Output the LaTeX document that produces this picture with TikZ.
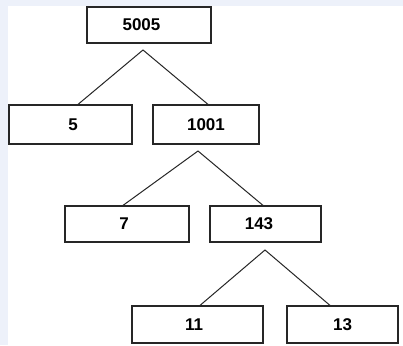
\documentclass[tikz,border=0pt]{standalone}
\usepackage{fontspec}
\setmainfont{Liberation Sans}
\usetikzlibrary{calc}
\definecolor{bgblue}{HTML}{EDF1FA}
\newcommand{\numshiftx}[2]{\hspace*{#1}#2}
\begin{document}
\begin{tikzpicture}[x=1pt,y=-1pt,
  numbox/.style={draw=black!85,line width=1.2pt,fill=white,inner sep=0pt,font=\bfseries\fontsize{17}{19}\selectfont},
  branch/.style={draw=black!85,line width=1pt}]
\fill[bgblue] (0,0) rectangle (403,345);
\fill[white] (8,6) rectangle (403,345);
\useasboundingbox (0,0) rectangle (403,345);
\node[numbox,minimum width=124pt,minimum height=36pt] (n5005) at (149,25) {\numshiftx{-15pt}{5005}};
\node[numbox,minimum width=123pt,minimum height=39pt] (n5) at (70.5,124.5) {\numshiftx{5pt}{5}};
\node[numbox,minimum width=106pt,minimum height=39pt] (n1001) at (206,124.5) {1001};
\node[numbox,minimum width=124pt,minimum height=36pt] (n7) at (127,224) {\numshiftx{-6pt}{7}};
\node[numbox,minimum width=111pt,minimum height=36pt] (n143) at (265.5,224) {\numshiftx{-13pt}{143}};
\node[numbox,minimum width=131pt,minimum height=37pt] (n11) at (197.5,324.5) {\numshiftx{-7pt}{11}};
\node[numbox,minimum width=111pt,minimum height=37pt] (n13) at (342.5,324.5) {13};
\coordinate (a1) at (143,50);
\coordinate (a2) at (198,151);
\coordinate (a3) at (265,250);
\draw[branch] ($(n5.north)+(7.5,0)$) -- (a1) -- ($(n1001.north)+(2,0)$);
\draw[branch] ($(n7.north)+(-4,0)$) -- (a2) -- ($(n143.north)+(-2.5,0)$);
\draw[branch] ($(n11.north)+(2.5,0)$) -- (a3) -- ($(n13.north)+(-12.5,0)$);
\end{tikzpicture}
\end{document}
